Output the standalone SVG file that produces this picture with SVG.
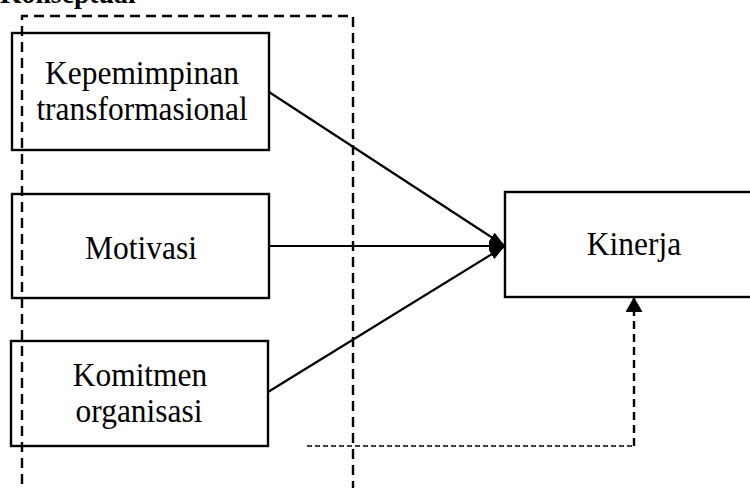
<svg xmlns="http://www.w3.org/2000/svg" width="750" height="488" viewBox="0 0 750 488">
<style>
  .box { fill: #fff; stroke: #000; stroke-width: 2.4; }
  .lbl { font-family: "Liberation Serif", "Times New Roman", serif; font-size: 34px; fill: #000; text-anchor: middle; }
  .title { font-family: "Liberation Serif", "Times New Roman", serif; font-size: 30px; font-weight: bold; fill: #000; }
  .edge { stroke: #000; stroke-width: 2.2; fill: none; }
  .frame { stroke: #000; stroke-width: 2.4; fill: none; stroke-dasharray: 10 6; }
  .dot-h { stroke: #000; stroke-width: 1.6; fill: none; stroke-dasharray: 5 3; }
  .dot-v { stroke: #000; stroke-width: 2.4; fill: none; stroke-dasharray: 8 5; }
</style>
<defs>
  <marker id="arr" viewBox="0 0 16 11" refX="16" refY="5.5" markerWidth="16" markerHeight="11" markerUnits="userSpaceOnUse" orient="auto">
    <path d="M0,0 L16,5.5 L0,11 Z" fill="#000"/>
  </marker>
  <marker id="arr2" viewBox="0 0 15 17" refX="15" refY="8.5" markerWidth="15" markerHeight="17" markerUnits="userSpaceOnUse" orient="auto">
    <path d="M0,0 L15,8.5 L0,17 Z" fill="#000"/>
  </marker>
</defs>
<rect width="750" height="488" fill="#fff"/>
<text class="title" transform="translate(0,3) scale(0.925,1)">Konseptual</text>
<g id="connectors">
  <line class="edge" x1="269" y1="92" x2="505" y2="246" marker-end="url(#arr)"/>
  <line class="edge" x1="269" y1="246" x2="505" y2="246" marker-end="url(#arr)"/>
  <line class="edge" x1="268" y1="392" x2="505" y2="246" marker-end="url(#arr)"/>
  <line class="dot-h" x1="307" y1="446" x2="634" y2="446"/>
  <line class="dot-v" x1="634" y1="446" x2="634" y2="297" marker-end="url(#arr2)"/>
</g>
<g id="node-kepemimpinan">
  <rect class="box" x="12" y="33" width="257" height="117"/>
  <text class="lbl" transform="translate(142,84) scale(0.925,1)">Kepemimpinan</text>
  <text class="lbl" transform="translate(142,120) scale(0.925,1)">transformasional</text>
</g>
<g id="node-motivasi">
  <rect class="box" x="12" y="194" width="257" height="104"/>
  <text class="lbl" transform="translate(141,259) scale(0.925,1)">Motivasi</text>
</g>
<g id="node-komitmen">
  <rect class="box" x="11" y="341" width="257" height="105"/>
  <text class="lbl" transform="translate(140,386) scale(0.925,1)">Komitmen</text>
  <text class="lbl" transform="translate(139,422) scale(0.925,1)">organisasi</text>
</g>
<g id="node-kinerja">
  <rect class="box" x="505" y="192" width="260" height="105"/>
  <text class="lbl" transform="translate(634,255) scale(0.925,1)">Kinerja</text>
</g>
<g id="frame">
  <path class="frame" d="M22,500 L22,16 L353,16 L353,500"/>
</g>
</svg>
